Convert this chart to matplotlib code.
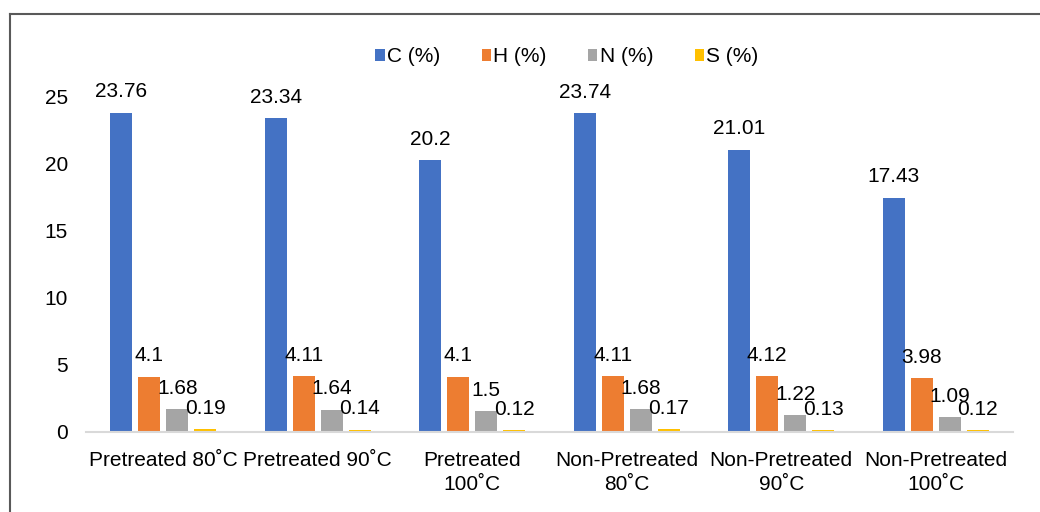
import numpy as np
import matplotlib
matplotlib.use('Agg')
import matplotlib.pyplot as plt
from matplotlib.lines import Line2D

# Elemental composition of the samples
categories = ['Pretreated 80˚C', 'Pretreated 90˚C', 'Pretreated\n100˚C',
              'Non-Pretreated\n80˚C', 'Non-Pretreated\n90˚C', 'Non-Pretreated\n100˚C']
series_names = ['C (%)', 'H (%)', 'N (%)', 'S (%)']
carbon = [23.76, 23.34, 20.2, 23.74, 21.01, 17.43]
hydrogen = [4.1, 4.11, 4.1, 4.11, 4.12, 3.98]
nitrogen = [1.68, 1.64, 1.5, 1.68, 1.22, 1.09]
sulfur = [0.19, 0.14, 0.12, 0.17, 0.13, 0.12]
yticks = [0, 5, 10, 15, 20, 25]

colors = ['#4472C4', '#ED7D31', '#A5A5A5', '#FFC000']

plt.rcParams['font.family'] = ['Liberation Sans', 'DejaVu Sans']

fig = plt.figure(figsize=(10.4, 5.12), dpi=100)
ax = fig.add_axes([0.0827, 0.157, 0.8913, 0.6555])

x = np.arange(len(categories))
width = 0.142
step = 0.181
offsets = (np.arange(4) - 1.5) * step

for vals, name, col, off in zip([carbon, hydrogen, nitrogen, sulfur],
                                series_names, colors, offsets):
    bars = ax.bar(x + off, vals, width, color=col, label=name, zorder=2)
    for b, v in zip(bars, vals):
        ax.annotate(f'{v:g}', (b.get_x() + b.get_width() / 2, v),
                    xytext=(0, 11), textcoords='offset points',
                    ha='center', va='baseline', fontsize=15, zorder=3)

ax.set_xlim(-0.5, len(categories) - 0.5)
ax.set_ylim(0, 25)
ax.set_yticks(yticks)
ax.set_xticks(x)
ax.set_xticklabels(categories, linespacing=1.3)
ax.tick_params(axis='both', length=0, labelsize=15)
ax.tick_params(axis='y', pad=13)
ax.tick_params(axis='x', pad=14)

for side in ['top', 'right', 'left']:
    ax.spines[side].set_visible(False)
ax.spines['bottom'].set_color('#D9D9D9')
ax.spines['bottom'].set_linewidth(1.5)

ax.legend(loc='center', bbox_to_anchor=(0.545, 0.889),
          bbox_transform=fig.transFigure, ncol=4, frameon=False,
          fontsize=15, handlelength=0.45, handleheight=0.5,
          handletextpad=0.1, columnspacing=2.0)

# chart frame
fig.add_artist(Line2D([10 / 1040, 1.0], [1 - 14 / 512, 1 - 14 / 512],
                      transform=fig.transFigure, color='#595959', lw=1.5))
fig.add_artist(Line2D([10 / 1040, 10 / 1040], [0.0, 1 - 14 / 512],
                      transform=fig.transFigure, color='#595959', lw=1.5))

fig.savefig('out.png', dpi=100)
